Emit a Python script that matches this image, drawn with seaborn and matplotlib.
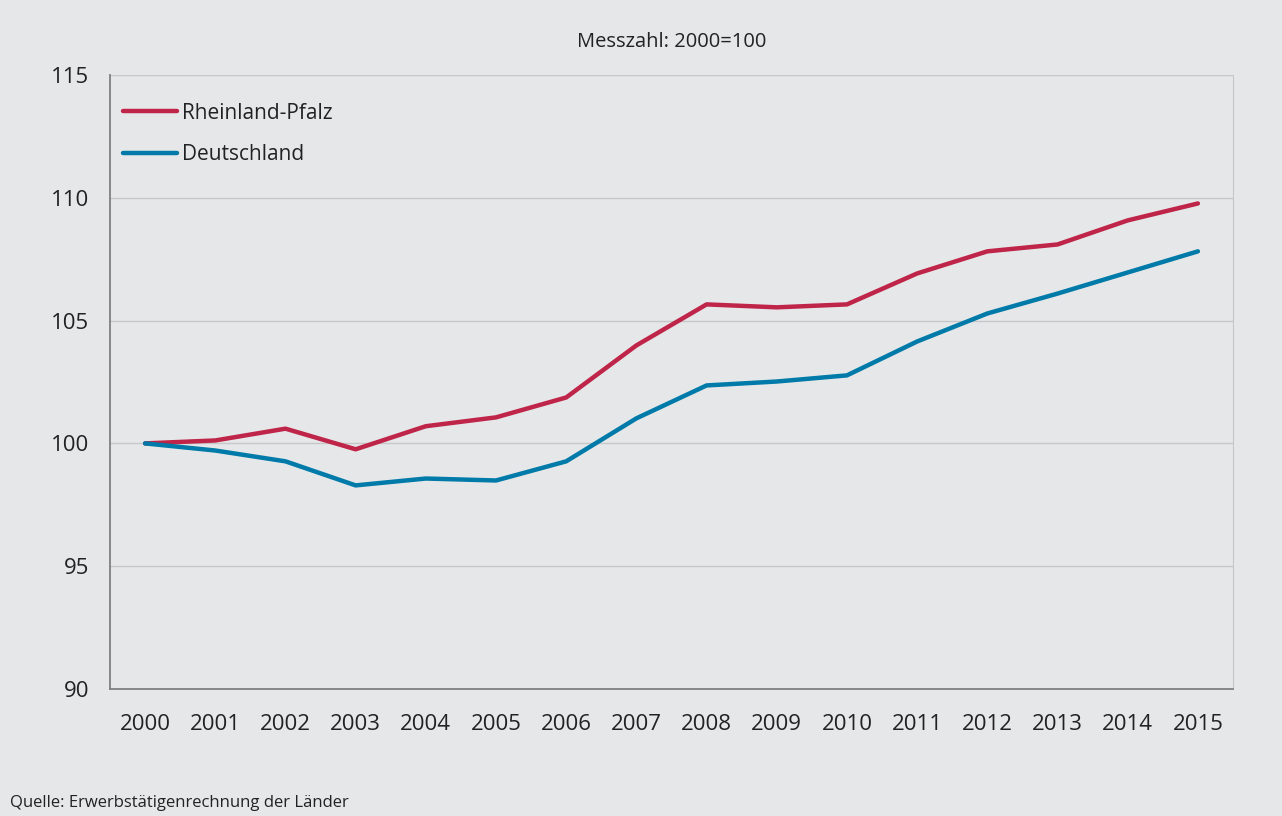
import numpy as np
import pandas as pd
import seaborn as sns
import matplotlib.pyplot as plt

years = list(range(2000, 2016))
rlp = [100.0, 100.12, 100.6, 99.76, 100.7, 101.06, 101.87, 103.99,
       105.66, 105.54, 105.66, 106.92, 107.82, 108.1, 109.08, 109.77]
de = [100.0, 99.71, 99.27, 98.29, 98.57, 98.49, 99.27, 101.02,
      102.36, 102.52, 102.77, 104.15, 105.29, 106.1, 106.96, 107.82]
series_names = ['Rheinland-Pfalz', 'Deutschland']
colors = ['#bf2449', '#007aa8']

df = pd.DataFrame({
    'pos': list(range(len(years))) * 2,
    'value': rlp + de,
    'series': [series_names[0]] * len(years) + [series_names[1]] * len(years),
})

bg = '#e6e7e9'
sns.set_style('white')
plt.rcParams['font.family'] = ['Open Sans', 'DejaVu Sans']

fig = plt.figure(figsize=(12.82, 8.16), dpi=100, facecolor=bg)
ax = fig.add_axes([110 / 1282, 1 - 689 / 816, 1123 / 1282, 614 / 816])
ax.set_facecolor(bg)

sns.lineplot(data=df, x='pos', y='value', hue='series', palette=colors,
             linewidth=3.2, ax=ax, legend=True)

# axes
ax.set_xlim(-0.5, len(years) - 0.5)
ax.set_ylim(90, 115)
ax.set_yticks(range(90, 116, 5))
ax.set_xticks(range(len(years)))
ax.set_xticklabels([str(y) for y in years])
ax.set_xticks(np.arange(-0.5, len(years), 1), minor=True)
ax.tick_params(axis='x', which='major', length=0, pad=18, labelsize=16, colors='#222222')
ax.tick_params(axis='x', which='minor', length=7, width=1.2, color='#808080')
ax.tick_params(axis='y', length=7, width=1.2, color='#808080', pad=8,
               labelsize=16, labelcolor='#222222')
ax.grid(axis='y', color='#c6c7c9', linewidth=1)
ax.set_axisbelow(True)
for s in ['left', 'bottom']:
    ax.spines[s].set_color('#808080')
    ax.spines[s].set_linewidth(1.3)
ax.spines['top'].set_visible(False)
ax.spines['right'].set_color('#c6c7c9')
ax.set_xlabel('')
ax.set_ylabel('')

ax.set_title('Messzahl: 2000=100', fontsize=14.5, color='#222222', pad=20)

leg = ax.legend(loc='upper left', bbox_to_anchor=(0.0116, 0.955), frameon=False,
                fontsize=15, handlelength=2.6, handletextpad=0.25,
                labelspacing=1.0, borderaxespad=0, borderpad=0)
for t in leg.get_texts():
    t.set_color('#222222')
for line in leg.get_lines():
    line.set_linewidth(3.2)

fig.text(10 / 1282, 1 - 803 / 816, 'Quelle: Erwerbstätigenrechnung der Länder',
         fontsize=12, color='#222222', va='center', ha='left')

fig.savefig('out.png', dpi=100, facecolor=bg)
